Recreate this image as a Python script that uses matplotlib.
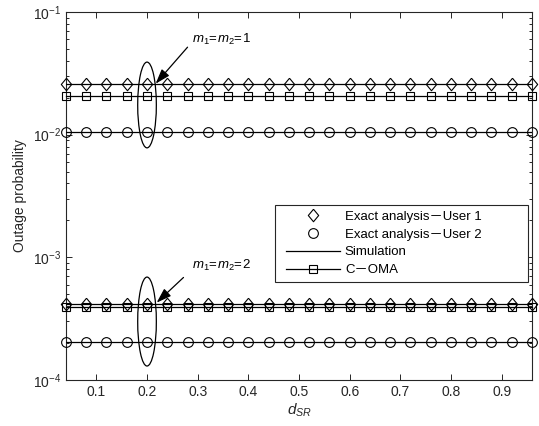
import matplotlib
matplotlib.use('Agg')
import matplotlib.pyplot as plt
from matplotlib.patches import Ellipse, Rectangle
from matplotlib.lines import Line2D

plt.rcParams['font.family'] = ['Liberation Sans', 'Noto Sans CJK SC']
plt.rcParams['mathtext.fontset'] = 'custom'
plt.rcParams['mathtext.rm'] = 'Liberation Sans'
plt.rcParams['mathtext.it'] = 'Liberation Sans:italic'

# ─── data ─────────────────────────────────────────────────────────────────────
d_sr = [0.04, 0.08, 0.12, 0.16, 0.20, 0.24, 0.28, 0.32, 0.36, 0.40, 0.44, 0.48,
        0.52, 0.56, 0.60, 0.64, 0.68, 0.72, 0.76, 0.80, 0.84, 0.88, 0.92, 0.96]

# m1 = m2 = 1
user1_m1 = [0.026] * 24
user2_m1 = [0.0105] * 24
coma_m1 = [0.0208] * 24
# m1 = m2 = 2
user1_m2 = [4.15e-4] * 24
user2_m2 = [2.05e-4] * 24
coma_m2 = [3.95e-4] * 24

x_ticks = [0.1, 0.2, 0.3, 0.4, 0.5, 0.6, 0.7, 0.8, 0.9]
y_ticks = [1e-4, 1e-3, 1e-2, 1e-1]

DARK = '#262626'
DIAMOND = [(0, 1), (0.83, 0), (0, -1), (-0.83, 0), (0, 1)]

fig = plt.figure(figsize=(5.39, 4.26), dpi=100)
ax = fig.add_axes([0.1224, 0.108, 0.8646, 0.864])

lw = 0.9
mk_d = dict(marker=DIAMOND, ms=9, mfc='none', mec='black', mew=0.8)
mk_o = dict(marker='o', ms=7, mfc='none', mec='black', mew=0.8)
mk_s = dict(marker='s', ms=5.8, mfc='none', mec='black', mew=0.8)

# simulation lines
for y in (user1_m1, user2_m1, user1_m2, user2_m2):
    ax.plot(d_sr, y, '-', color='black', lw=lw, zorder=3)
# exact analysis markers
for y in (user1_m1, user1_m2):
    ax.plot(d_sr, y, ls='none', zorder=4, clip_on=False, **mk_d)
for y in (user2_m1, user2_m2):
    ax.plot(d_sr, y, ls='none', zorder=4, clip_on=False, **mk_o)
# C-OMA
for y in (coma_m1, coma_m2):
    ax.plot(d_sr, y, '-', color='black', lw=lw, zorder=4, clip_on=False, **mk_s)

ax.set_yscale('log')
ax.set_xlim(0.04, 0.96)
ax.set_ylim(1e-4, 1e-1)
ax.set_xticks(x_ticks)
ax.set_xticklabels([f'{t:.1f}' for t in x_ticks])
ax.set_yticks(y_ticks)
ax.tick_params(which='both', direction='in', top=True, right=True,
               colors=DARK, labelsize=10)
ax.tick_params(which='major', length=4, width=0.7)
ax.tick_params(which='minor', length=2.5, width=0.7)
for s in ax.spines.values():
    s.set_color(DARK)
    s.set_linewidth(0.8)

ax.set_xlabel(r'$d_{SR}$', fontsize=11, color=DARK, labelpad=2)
ax.set_ylabel('Outage probability', fontsize=10, color=DARK, labelpad=4)

# ─── ellipses & annotations ──────────────────────────────────────────────────
fig.canvas.draw()
def ellipse_at(xc, ytop, ybot):
    # ellipse spanning [ybot, ytop] (data coords) drawn in axes coords
    t = ax.transAxes.inverted()
    x0, a0 = t.transform(ax.transData.transform((xc, ybot)))
    _, a1 = t.transform(ax.transData.transform((xc, ytop)))
    ax.add_patch(Ellipse((x0, (a0 + a1) / 2), 0.04, a1 - a0,
                         transform=ax.transAxes, fill=False, ec='black',
                         lw=0.9, zorder=5))

ellipse_at(0.2, 0.039, 0.0078)
ellipse_at(0.2, 6.9e-4, 1.3e-4)

arrow = dict(arrowstyle='-|>,head_length=0.9,head_width=0.3', color='black',
             lw=0.9, shrinkA=0, shrinkB=0)
ax.annotate('', xy=(0.217, 0.026), xytext=(0.28, 0.0516), arrowprops=arrow, zorder=6)
ax.annotate('', xy=(0.219, 4.27e-4), xytext=(0.272, 6.85e-4), arrowprops=arrow, zorder=6)
ax.text(0.288, 0.060, r'$m_1\!=\!m_2\!=\!1$', fontsize=9.5, ha='left', va='center')
ax.text(0.288, 8.6e-4, r'$m_1\!=\!m_2\!=\!2$', fontsize=9.5, ha='left', va='center')

# ─── legend ──────────────────────────────────────────────────────────────────
handles = [
    Line2D([], [], ls='none', **mk_d),
    Line2D([], [], ls='none', **mk_o),
    Line2D([], [], ls='-', color='black', lw=lw),
    Line2D([], [], ls='-', color='black', lw=lw, **mk_s),
]
labels = ['Exact analysis\uff0dUser 1', 'Exact analysis\uff0dUser 2',
          'Simulation', 'C\uff0dOMA']
ax.add_patch(Rectangle((0.4485, 0.266), 0.5425, 0.2095, transform=ax.transAxes,
                       fc='white', ec=DARK, lw=0.8, zorder=7))
leg = ax.legend(handles, labels, loc='center left', bbox_to_anchor=(0.4485, 0.371),
                fontsize=9.5, handlelength=4.1, handletextpad=0.4, labelspacing=0.42,
                borderpad=0.3, frameon=False)
leg.set_zorder(8)

fig.savefig('out.png', dpi=100, facecolor='white')
